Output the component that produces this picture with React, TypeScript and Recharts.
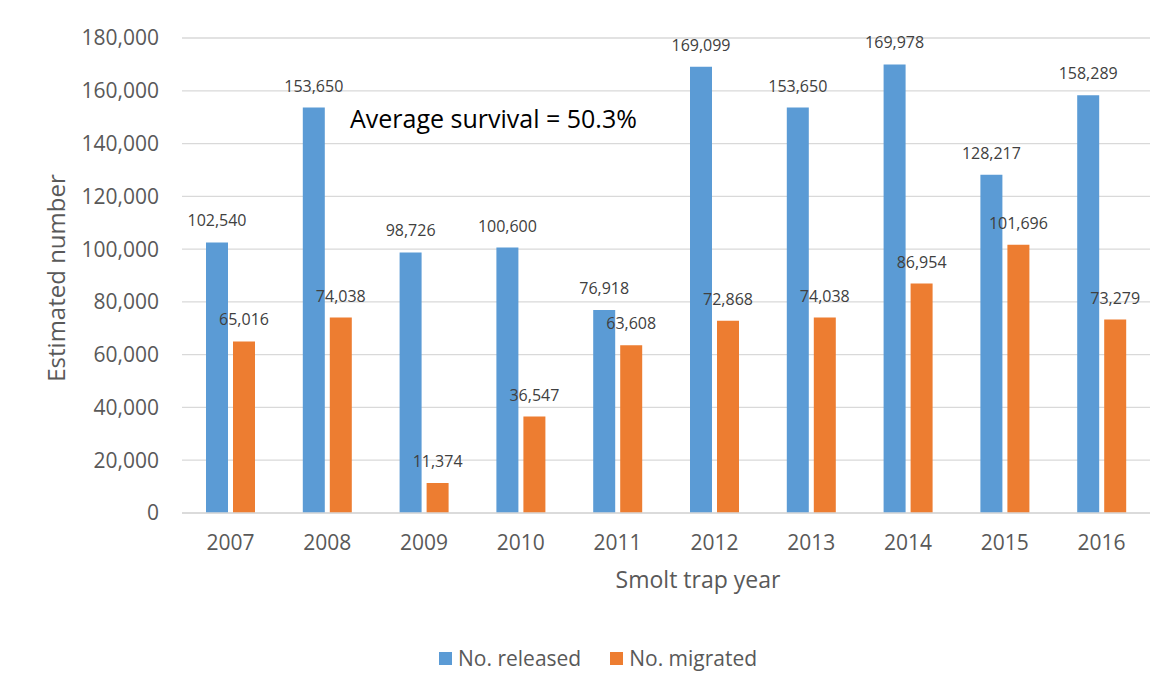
import { BarChart, Bar, XAxis, YAxis, CartesianGrid, Legend, LabelList, Label } from 'recharts';

const years = ['2007', '2008', '2009', '2010', '2011', '2012', '2013', '2014', '2015', '2016'];
const released = [102540, 153650, 98726, 100600, 76918, 169099, 153650, 169978, 128217, 158289];
const migrated = [65016, 74038, 11374, 36547, 63608, 72868, 74038, 86954, 101696, 73279];
const yTicks = [0, 20000, 40000, 60000, 80000, 100000, 120000, 140000, 160000, 180000];
const seriesOrder = ['released', 'migrated'];

const data = years.map((year, i) => ({
  year,
  released: released[i],
  migrated: migrated[i],
}));

const FONT = '"Open Sans", "Liberation Sans", sans-serif';
const fmt = (v: number) => Number(v).toLocaleString('en-US');

function LegendBox({ payload }: any) {
  const items = [...(payload || [])].sort(
    (a: any, b: any) => seriesOrder.indexOf(a.dataKey) - seriesOrder.indexOf(b.dataKey)
  );
  return (
    <div style={{ display: 'flex', alignItems: 'center', fontFamily: FONT, fontSize: 21, color: '#595959' }}>
      {items.map((p: any, i: number) => (
        <div key={p.value} style={{ display: 'flex', alignItems: 'center', marginRight: i === 0 ? 29 : 0 }}>
          <span style={{ width: 13, height: 13, background: p.color, display: 'inline-block', marginRight: 6 }} />
          <span>{p.value}</span>
        </div>
      ))}
    </div>
  );
}

export default function App() {
  return (
    <div
      style={{
        marginLeft: -1,
        marginTop: -1,
        width: 1160,
        height: 680,
        borderLeft: '1px solid #d9d9d9',
        borderTop: '1px solid #d9d9d9',
        fontFamily: FONT,
        position: 'relative',
      }}
    >
      <BarChart
        width={1160}
        height={680}
        data={data}
        margin={{ top: 30, right: 18, left: 0, bottom: 115 }}
        barSize={22}
        barGap={5}
      >
        <CartesianGrid vertical={false} stroke="#d9d9d9" strokeWidth={1.3} />
        <XAxis
          dataKey="year"
          height={60}
          tickLine={false}
          tickSize={0}
          tickMargin={22}
          axisLine={{ stroke: '#d9d9d9', strokeWidth: 1.5 }}
          tick={{ fill: '#595959', fontSize: 21, fontFamily: FONT }}
        >
          <Label
            value="Smolt trap year"
            position="center"
            dx={32}
            dy={37}
            style={{ fill: '#595959', fontSize: 23, fontFamily: FONT }}
          />
        </XAxis>
        <YAxis
          width={174}
          domain={[0, 180000]}
          ticks={yTicks}
          tickFormatter={fmt}
          axisLine={false}
          tickLine={false}
          tickSize={0}
          tickMargin={23}
          tick={{ fill: '#595959', fontSize: 21, fontFamily: FONT }}
        >
          <Label
            value="Estimated number"
            position="center"
            angle={-90}
            dx={-39}
            dy={2.5}
            style={{ fill: '#595959', fontSize: 24, fontFamily: FONT }}
          />
        </YAxis>
        <Legend
          layout="horizontal"
          verticalAlign="middle"
          align="center"
          wrapperStyle={{ top: 636, left: 431, width: 'auto' }}
          content={<LegendBox />}
        />
        <Bar dataKey="released" name="No. released" fill="#5B9BD5" isAnimationActive={false}>
          <LabelList
            dataKey="released"
            position="top"
            offset={16}
            formatter={fmt}
            style={{ fill: '#404040', fontSize: 16, fontFamily: FONT }}
          />
        </Bar>
        <Bar dataKey="migrated" name="No. migrated" fill="#ED7D31" isAnimationActive={false}>
          <LabelList
            dataKey="migrated"
            position="top"
            offset={16}
            formatter={fmt}
            style={{ fill: '#404040', fontSize: 16, fontFamily: FONT }}
          />
        </Bar>
        <text x={342} y={120} fill="#000" fontSize={25} fontFamily={FONT}>
          Average survival = 50.3%
        </text>
      </BarChart>
    </div>
  );
}
